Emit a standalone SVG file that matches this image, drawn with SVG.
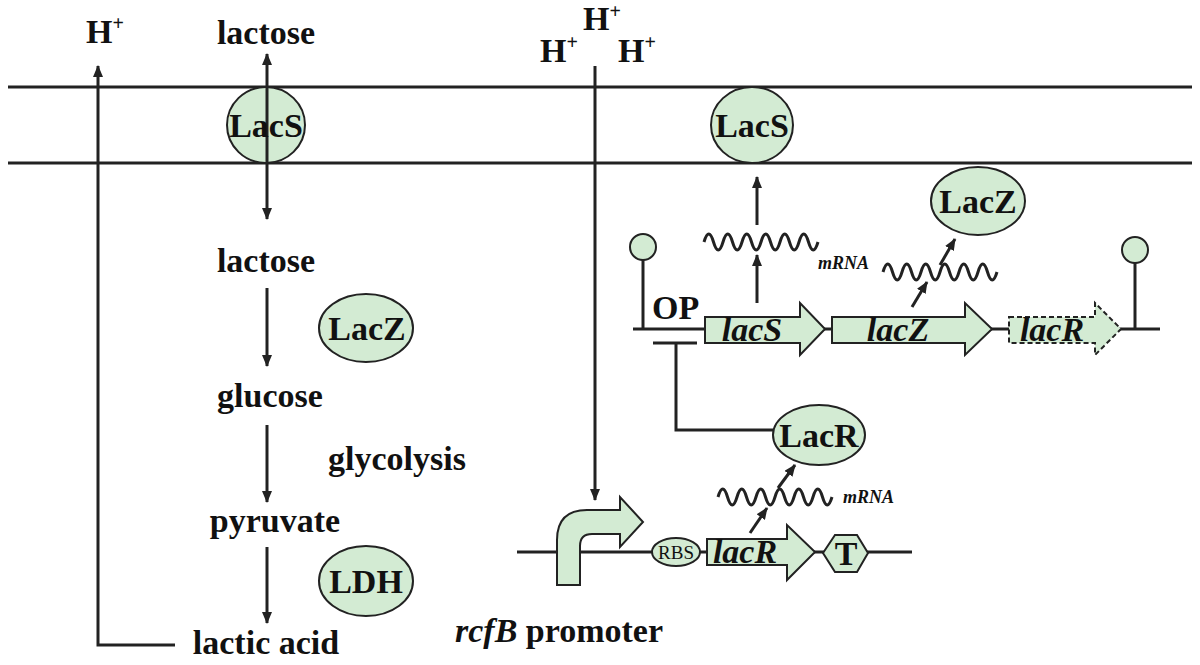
<svg xmlns="http://www.w3.org/2000/svg" width="1200" height="665" viewBox="0 0 1200 665">
<style>
.ln{stroke:#222;stroke-width:3;fill:none}
.ar{stroke:#222;stroke-width:3;fill:none;marker-end:url(#ah)}
.sh{fill:#d3ebd3;stroke:#222;stroke-width:2}
.t{font-family:'Liberation Serif','DejaVu Serif',serif;font-weight:700;font-size:34px;fill:#111}
.c{text-anchor:middle}
.i{font-style:italic}
.s{font-size:18px}
.sup{font-size:20px}
</style>
<defs>
<marker id="ah" viewBox="0 0 12 10" refX="11" refY="5" markerWidth="12" markerHeight="10" markerUnits="userSpaceOnUse" orient="auto">
<path d="M0,0 L12,5 L0,10 Z" fill="#222"/>
</marker>
<marker id="ahs" viewBox="0 0 12 10" refX="1" refY="5" markerWidth="12" markerHeight="10" markerUnits="userSpaceOnUse" orient="auto">
<path d="M12,0 L0,5 L12,10 Z" fill="#222"/>
</marker>
</defs>

<g id="membrane">
<line class="ln" x1="8" y1="87" x2="1192" y2="87"/>
<line class="ln" x1="8" y1="163" x2="1192" y2="163"/>
</g>

<g id="dna-lines">
<line class="ln" x1="633" y1="329" x2="1160" y2="329"/>
<line class="ln" x1="517" y1="552" x2="912" y2="552"/>
</g>

<g id="connectors">
<polyline class="ar" points="175,645 98,645 98,66"/>
<line class="ln" x1="267" y1="54" x2="267" y2="219" marker-start="url(#ahs)" marker-end="url(#ah)"/>
<line class="ar" x1="595" y1="66" x2="595" y2="500"/>
<line class="ar" x1="267" y1="288" x2="267" y2="366"/>
<line class="ar" x1="267" y1="425" x2="267" y2="502"/>
<line class="ar" x1="267" y1="547" x2="267" y2="623"/>
<line class="ar" x1="757" y1="225" x2="757" y2="177"/>
<line class="ar" x1="757" y1="303" x2="757" y2="255"/>
<line class="ar" x1="912" y1="307" x2="927" y2="282"/>
<line class="ar" x1="940" y1="265" x2="955" y2="239"/>
<line class="ar" x1="750" y1="533" x2="767" y2="508"/>
<line class="ar" x1="778" y1="488" x2="795" y2="465"/>
<line class="ln" x1="653" y1="343" x2="697" y2="343"/>
<polyline class="ln" points="676,343 676,430 773,430"/>
</g>

<g id="mrna-waves" class="ln" stroke-width="2.5">
<path d="M704,242 q4.75,-16 9.5,0 t9.5,0 t9.5,0 t9.5,0 t9.5,0 t9.5,0 t9.5,0 t9.5,0 t9.5,0 t9.5,0 t9.5,0 t9.5,0"/>
<path d="M883,272 q4.75,-16 9.5,0 t9.5,0 t9.5,0 t9.5,0 t9.5,0 t9.5,0 t9.5,0 t9.5,0 t9.5,0 t9.5,0 t9.5,0 t9.5,0"/>
<path d="M718,497 q4.75,-16 9.5,0 t9.5,0 t9.5,0 t9.5,0 t9.5,0 t9.5,0 t9.5,0 t9.5,0 t9.5,0 t9.5,0 t9.5,0 t9.5,0"/>
</g>

<g id="h-plus">
<text class="t" x="86" y="43">H<tspan class="sup" dy="-13">+</tspan></text>
<text class="t" x="583" y="30">H<tspan class="sup" dy="-12">+</tspan></text>
<text class="t" x="540" y="62">H<tspan class="sup" dy="-13">+</tspan></text>
<text class="t" x="618" y="62">H<tspan class="sup" dy="-13">+</tspan></text>
</g>

<g id="metabolites">
<text class="t c" x="266" y="44">lactose</text>
<text class="t c" x="266" y="272">lactose</text>
<text class="t c" x="270" y="407">glucose</text>
<text class="t" x="328" y="470">glycolysis</text>
<text class="t c" x="275" y="532">pyruvate</text>
<text class="t c" x="266" y="654">lactic acid</text>
</g>

<g id="lacS-left">
<ellipse class="sh" cx="266" cy="125" rx="39" ry="38"/>
<line class="ln" x1="267" y1="87" x2="267" y2="163"/>
<text class="t c" x="266" y="137">LacS</text>
</g>
<g id="lacS-right">
<ellipse class="sh" cx="752" cy="125" rx="41" ry="38"/>
<text class="t c" x="752" y="137">LacS</text>
</g>
<g id="lacZ-left">
<ellipse class="sh" cx="366" cy="328" rx="47" ry="34"/>
<text class="t c" x="367" y="340">LacZ</text>
</g>
<g id="ldh">
<ellipse class="sh" cx="366" cy="581" rx="47" ry="35"/>
<text class="t c" x="366" y="593">LDH</text>
</g>
<g id="lacZ-right">
<ellipse class="sh" cx="978" cy="201" rx="47" ry="34"/>
<text class="t c" x="978" y="213">LacZ</text>
</g>
<g id="lacR-protein">
<ellipse class="sh" cx="819" cy="435" rx="46" ry="30"/>
<text class="t c" x="819" y="447">LacR</text>
</g>

<g id="terminator-left">
<line class="ln" x1="643" y1="260" x2="643" y2="329"/>
<circle class="sh" cx="643" cy="247" r="13"/>
</g>
<g id="terminator-right">
<line class="ln" x1="1135" y1="263" x2="1135" y2="329"/>
<circle class="sh" cx="1135" cy="250" r="13"/>
</g>

<g id="op">
<text class="t" x="652" y="319">OP</text>
</g>

<g id="gene-lacS">
<path class="sh" d="M705,317 L800,317 L800,303 L825,329 L800,355 L800,343 L705,343 Z"/>
<text class="t c i" x="752" y="341">lacS</text>
</g>
<g id="gene-lacZ">
<path class="sh" d="M832,317 L965,317 L965,303 L992,329 L965,355 L965,343 L832,343 Z"/>
<text class="t c i" x="898" y="341">lacZ</text>
</g>
<g id="gene-lacR-top">
<path class="sh" stroke-dasharray="5,3" d="M1009,317 L1095,317 L1095,303 L1121,329 L1095,355 L1095,343 L1009,343 Z"/>
<text class="t c i" x="1052" y="341">lacR</text>
</g>

<g id="promoter">
<path class="sh" d="M557,585 L557,540 Q557,510 587,510 L620,510 L620,497 L643,522 L620,547 L620,534 L592,534 Q580,534 580,546 L580,585 Z"/>
</g>
<g id="rbs">
<ellipse class="sh" cx="676" cy="552" rx="24" ry="14"/>
<text class="t c" style="font-size:19px;font-weight:400" x="676" y="559">RBS</text>
</g>
<g id="gene-lacR-bottom">
<path class="sh" d="M707,539 L787,539 L787,525 L815,552 L787,580 L787,565 L707,565 Z"/>
<text class="t c i" x="745" y="563">lacR</text>
</g>
<g id="terminator-T">
<polygon class="sh" points="823,553 835,535 857,535 868,553 857,572 835,572"/>
<text class="t c" x="846" y="565">T</text>
</g>

<g id="labels">
<text class="t i s" x="818" y="269">mRNA</text>
<text class="t i s" x="843" y="503">mRNA</text>
<text class="t" x="455" y="642"><tspan class="i">rcfB</tspan> promoter</text>
</g>
</svg>
